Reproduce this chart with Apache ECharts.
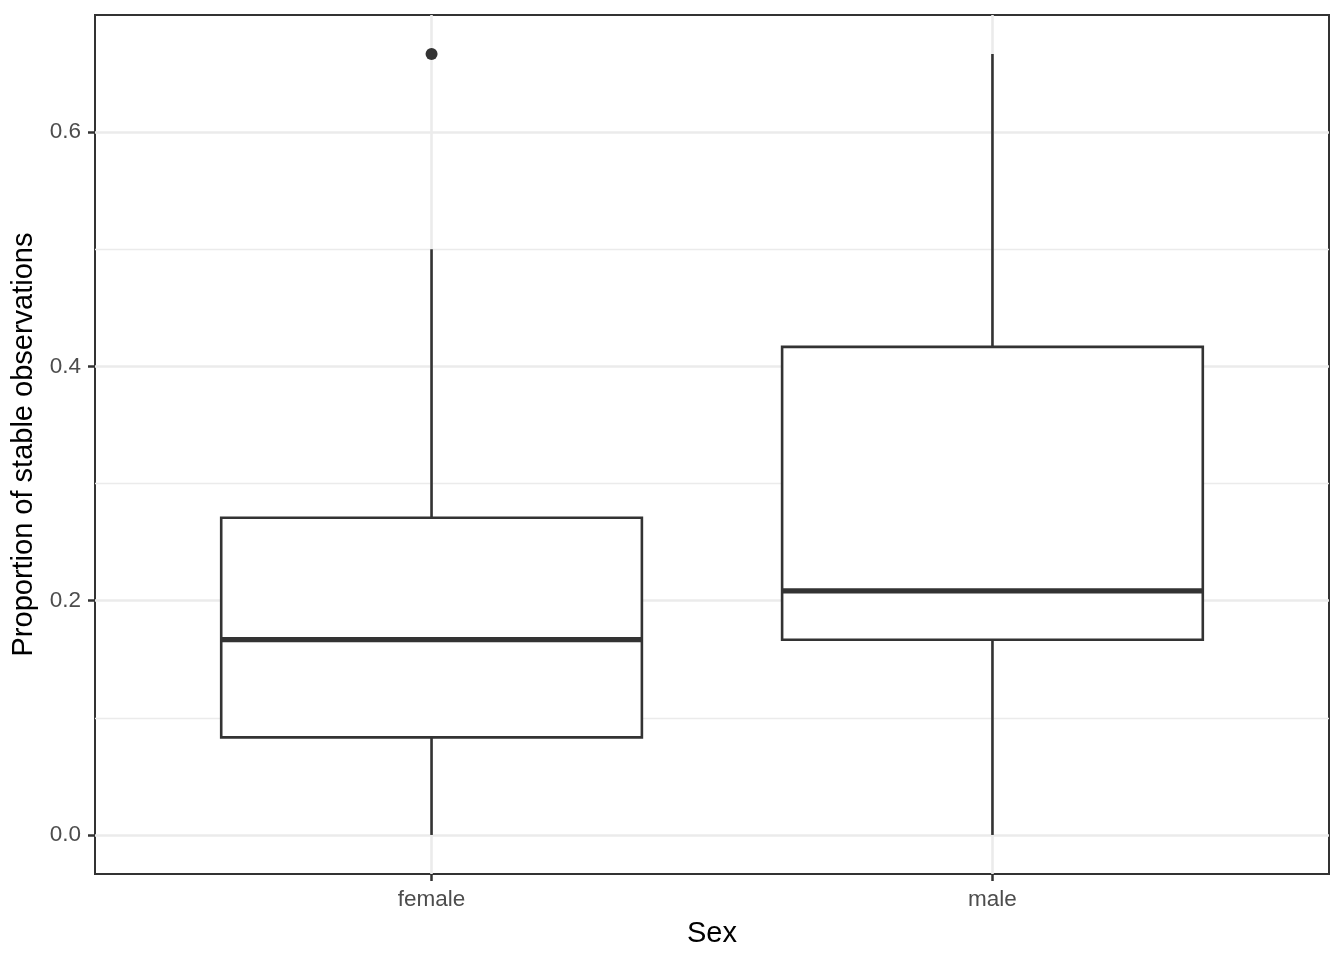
<!DOCTYPE html>
<html>
<head>
<meta charset="utf-8">
<script src="https://cdn.jsdelivr.net/npm/echarts@6/dist/echarts.min.js"></script>
<style>html,body{margin:0;padding:0;background:#fff;}#c{width:1344px;height:960px;}</style>
</head>
<body>
<div id="c"></div>
<script>
const categories = ['female', 'male'];
// [lowerWhisker, Q1, median, Q3, upperWhisker]
const boxStats = [
  [0.0, 0.0833, 0.1667, 0.2708, 0.5],
  [0.0, 0.1667, 0.2083, 0.4167, 0.6667]
];
const outliers = [[1, 0.6667]];
const yTicks = [0, 0.2, 0.4, 0.6];
const yMinorTicks = [0.1, 0.3, 0.5];

const chart = echarts.init(document.getElementById('c'));
const boxData = boxStats.map((s, i) => [i + 1].concat(s));
const ink = '#333333';

chart.setOption({
  animation: false,
  backgroundColor: '#ffffff',
  grid: { left: 95, right: 15, top: 15, bottom: 86, show: true, borderColor: ink, borderWidth: 2, backgroundColor: '#fff' },
  xAxis: {
    type: 'value', min: 0.4, max: 2.6,
    name: 'Sex', nameLocation: 'middle', nameGap: 45,
    nameTextStyle: { fontFamily: 'Liberation Sans', fontSize: 29, color: '#000' },
    axisLine: { show: true, onZero: false, lineStyle: { color: ink, width: 2 } },
    axisTick: { show: true, inside: false, length: 7, lineStyle: { color: ink, width: 2.5 }, customValues: [1, 2] },
    axisLabel: { customValues: [1, 2], margin: 14, fontFamily: 'Liberation Sans', fontSize: 22.5, color: '#4D4D4D',
      formatter: v => categories[Math.round(v) - 1] || '' },
    splitLine: { show: false }
  },
  yAxis: {
    type: 'value', min: -0.03333, max: 0.7,
    name: 'Proportion of stable observations', nameLocation: 'middle', nameGap: 53,
    nameTextStyle: { fontFamily: 'Liberation Sans', fontSize: 29, color: '#000' },
    axisLine: { show: true, onZero: false, lineStyle: { color: ink, width: 2 } },
    axisTick: { show: true, length: 7, lineStyle: { color: ink, width: 2.5 }, customValues: yTicks },
    axisLabel: { customValues: yTicks, margin: 14, fontFamily: 'Liberation Sans', fontSize: 22.5, color: '#4D4D4D',
      formatter: v => v.toFixed(1) },
    splitLine: { show: false }
  },
  series: [
    {
      type: 'line', data: [], silent: true, z: 1,
      markLine: {
        silent: true, symbol: 'none', z: 1, animation: false,
        label: { show: false },
        data: [
          ...yMinorTicks.map(v => ({ yAxis: v, lineStyle: { color: '#EBEBEB', width: 1.4, type: 'solid' } })),
          ...yTicks.map(v => ({ yAxis: v, lineStyle: { color: '#EBEBEB', width: 2.6, type: 'solid' } })),
          ...categories.map((c, i) => ({ xAxis: i + 1, lineStyle: { color: '#EBEBEB', width: 2.6, type: 'solid' } }))
        ]
      }
    },
    {
      type: 'custom', z: 3, silent: true,
      data: boxData,
      encode: { x: 0, y: [1, 2, 3, 4, 5] },
      renderItem: function (params, api) {
        const x = api.value(0);
        const half = api.size([0.75, 0])[0] / 2;
        const pLo = api.coord([x, api.value(1)]);
        const pQ1 = api.coord([x, api.value(2)]);
        const pMed = api.coord([x, api.value(3)]);
        const pQ3 = api.coord([x, api.value(4)]);
        const pHi = api.coord([x, api.value(5)]);
        const st = { stroke: ink, lineWidth: 2.6, fill: null };
        return {
          type: 'group',
          children: [
            { type: 'line', shape: { x1: pLo[0], y1: pLo[1], x2: pQ1[0], y2: pQ1[1] }, style: st },
            { type: 'line', shape: { x1: pQ3[0], y1: pQ3[1], x2: pHi[0], y2: pHi[1] }, style: st },
            { type: 'rect', shape: { x: pQ3[0] - half, y: pQ3[1], width: half * 2, height: pQ1[1] - pQ3[1] },
              style: { stroke: ink, lineWidth: 2.6, fill: '#ffffff' } },
            { type: 'line', shape: { x1: pMed[0] - half, y1: pMed[1], x2: pMed[0] + half, y2: pMed[1] },
              style: { stroke: ink, lineWidth: 5.2 } }
          ]
        };
      }
    },
    {
      type: 'scatter', z: 4, silent: true,
      data: outliers, symbol: 'circle', symbolSize: 12,
      itemStyle: { color: ink, opacity: 1 }
    }
  ]
});
</script>
</body>
</html>
